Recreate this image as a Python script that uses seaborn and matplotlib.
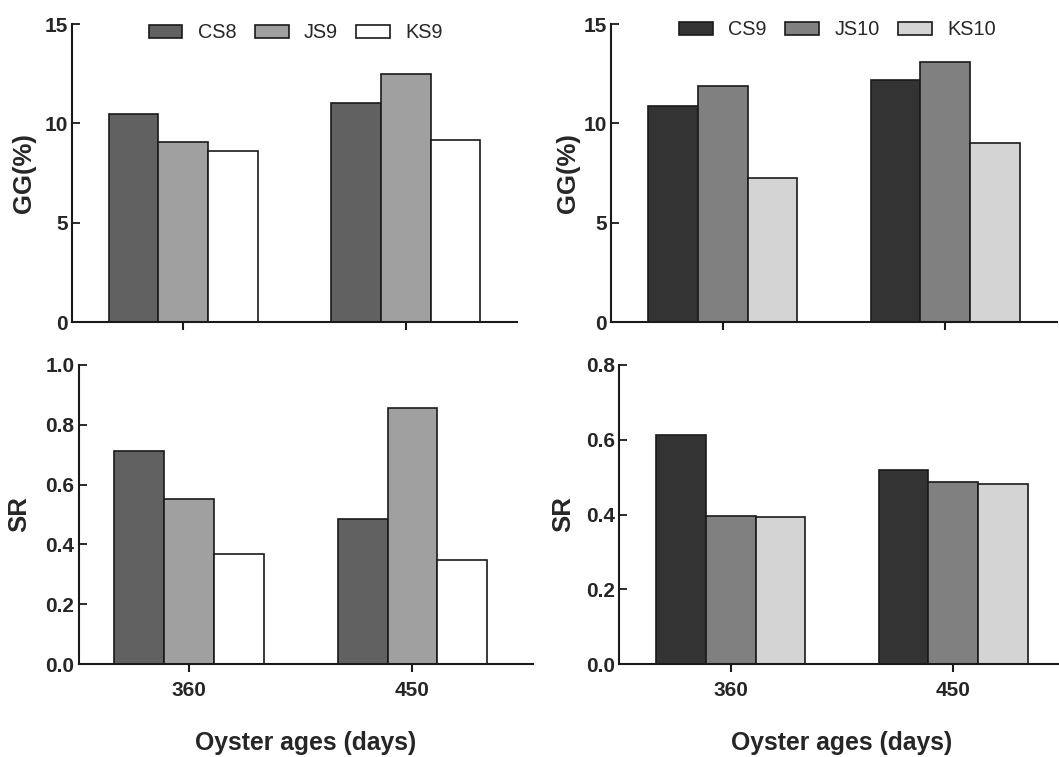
import pandas as pd
import seaborn as sns
import matplotlib
matplotlib.use("Agg")
import matplotlib.pyplot as plt

ages = ["360", "450"]

left_groups = ["CS8", "JS9", "KS9"]
left_gg = [[10.47, 11.02], [9.07, 12.48], [8.60, 9.14]]
left_sr = [[0.713, 0.485], [0.552, 0.854], [0.367, 0.347]]
left_colors = ["#616161", "#a0a0a0", "#ffffff"]

right_groups = ["CS9", "JS10", "KS10"]
right_gg = [[10.87, 12.19], [11.88, 13.08], [7.26, 9.01]]
right_sr = [[0.611, 0.520], [0.397, 0.486], [0.392, 0.481]]
right_colors = ["#333333", "#808080", "#d4d4d4"]


def make_frame(groups, values):
    rows = []
    for g, vals in zip(groups, values):
        for a, v in zip(ages, vals):
            rows.append(dict(age=a, group=g, value=v))
    return pd.DataFrame(rows)


sns.set_style("ticks")
plt.rcParams["font.family"] = ["Liberation Sans", "DejaVu Sans"]

W, H = 1059, 757
fig = plt.figure(figsize=(W / 100, H / 100), dpi=100)


def px_axes(left, top, right, bottom):
    return fig.add_axes([left / W, 1 - bottom / H, (right - left) / W, (bottom - top) / H])


def draw(ax, groups, values, colors, ymax, yticks, ylabel, label_x, xlim, top_row, legend_pos=None):
    df = make_frame(groups, values)
    sns.barplot(data=df, x="age", y="value", hue="group", hue_order=groups,
                palette=colors, width=0.67, gap=0, errorbar=None,
                edgecolor="#1a1a1a", linewidth=1.2, saturation=1, ax=ax)
    ax.set_xlim(*xlim)
    ax.set_ylim(0, ymax)
    ax.set_yticks(yticks)
    ax.set_yticklabels([("%g" % t) if ymax > 2 else "%.1f" % t for t in yticks])
    for s in ["top", "right"]:
        ax.spines[s].set_visible(False)
    for s in ["left", "bottom"]:
        ax.spines[s].set_linewidth(1.5)
        ax.spines[s].set_color("#1a1a1a")
    # y ticks point inward, x ticks outward like the original
    ax.tick_params(axis="y", direction="in", length=6, width=1.3, color="#1a1a1a",
                   labelsize=15, pad=3)
    ax.tick_params(axis="x", length=6, width=1.5, color="#1a1a1a", labelsize=15, pad=6)
    for t in ax.get_yticklabels() + ax.get_xticklabels():
        t.set_fontweight("bold")
    ax.set_ylabel(ylabel, fontsize=18.5, fontweight="bold")
    ax.yaxis.set_label_coords(label_x, 0.5)
    if top_row:
        ax.set_xticklabels([])
        ax.set_xlabel("")
        handles, labels = ax.get_legend_handles_labels()
        ax.legend(handles, labels, ncol=3, frameon=False, loc="center",
                  bbox_to_anchor=legend_pos, fontsize=14.3, handlelength=1.7,
                  handleheight=0.62, handletextpad=0.77, columnspacing=0.93,
                  borderpad=0)
    else:
        ax.legend_.remove()
        ax.set_xlabel("Oyster ages (days)", fontsize=17.8, fontweight="bold")
        ax.xaxis.set_label_coords(0.5, -0.222)


ax1 = px_axes(72, 24, 517, 322)
draw(ax1, left_groups, left_gg, left_colors, 15, [0, 5, 10, 15], "GG(%)", -0.081,
     (-0.5, 1.5), True, (0.503, 0.970))

ax2 = px_axes(611.3, 24, 1056.7, 322)
draw(ax2, right_groups, right_gg, right_colors, 15, [0, 5, 10, 15], "GG(%)", -0.070,
     (-0.5, 1.5), True, (0.508, 0.980))

ax3 = px_axes(78.7, 364.7, 533, 664.3)
draw(ax3, left_groups, left_sr, left_colors, 1.0, [0.0, 0.2, 0.4, 0.6, 0.8, 1.0], "SR", -0.105,
     (-0.495, 1.54), False)

ax4 = px_axes(619.3, 364.7, 1064.7, 664.3)
draw(ax4, right_groups, right_sr, right_colors, 0.8, [0.0, 0.2, 0.4, 0.6, 0.8], "SR", -0.0995,
     (-0.5, 1.5), False)

fig.savefig("out.png", dpi=100)
